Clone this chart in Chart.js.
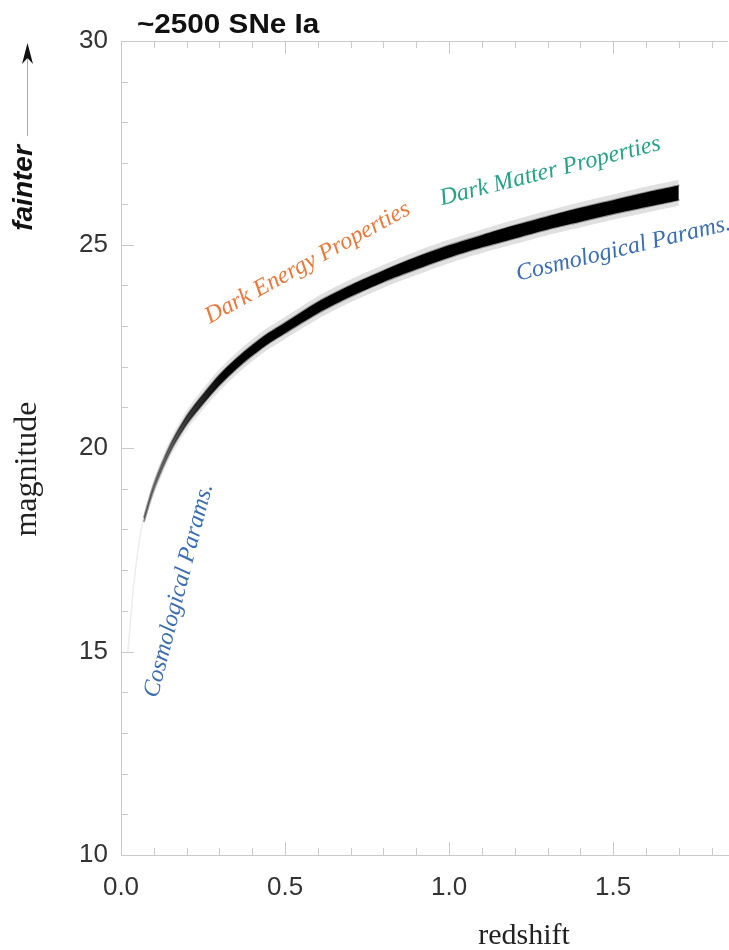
<!DOCTYPE html>
<html>
<head>
<meta charset="utf-8">
<script src="https://cdn.jsdelivr.net/npm/chart.js@4/dist/chart.umd.min.js"></script>
<style>
  html, body { margin: 0; padding: 0; background: #fff; }
  #wrap { position: relative; width: 729px; height: 950px; }
</style>
</head>
<body>
<div id="wrap"><canvas id="hubble" width="729" height="950"></canvas></div>
<script>
// Hubble diagram of the simulated SN Ia sample: redshift vs. apparent magnitude
const redshift   = [0.07, 0.10, 0.15, 0.20, 0.25, 0.30, 0.35, 0.40, 0.45, 0.50, 0.60,
                    0.70, 0.80, 0.90, 1.00, 1.10, 1.20, 1.30, 1.40, 1.50, 1.60, 1.70];
const magCenter  = [18.25, 19.04, 19.99, 20.68, 21.2, 21.67, 22.06, 22.4, 22.7, 22.95, 23.45,
                    23.86, 24.22, 24.54, 24.83, 25.08, 25.31, 25.53, 25.73, 25.92, 26.1, 26.27];
// spread of the points around the locus, and of their error bars (mag)
const scatterHalf = [0.05, 0.07, 0.09, 0.11, 0.12, 0.13, 0.13, 0.13, 0.13, 0.13, 0.14,
                     0.14, 0.14, 0.15, 0.15, 0.15, 0.16, 0.16, 0.17, 0.17, 0.18, 0.18];
const errorHalf   = [0.16, 0.20, 0.23, 0.25, 0.26, 0.27, 0.27, 0.27, 0.27, 0.27, 0.28,
                     0.28, 0.28, 0.29, 0.29, 0.29, 0.30, 0.30, 0.31, 0.31, 0.32, 0.32];
// faint trace of the nearby sample
const nearbyRedshift = [0.021, 0.037, 0.052, 0.067];
const nearbyMag      = [15.0, 16.5, 17.5, 18.25];

const xTickValues = [0.0, 0.5, 1.0, 1.5];
const yTickValues = [10, 15, 20, 25, 30];

// labelled regions of the diagram: [text, redshift, magnitude, angle (deg), colour]
const regionLabels = [
  ['Dark Energy Properties', 0.578, 24.41, -28.7, '#e8793d'],
  ['Dark Matter Properties', 1.313, 26.65, -14.2, '#27a189'],
  ['Cosmological Params.',   1.536, 24.74, -13.5, '#3b6db3'],
  ['Cosmological Params.',   0.195, 16.46, -75.5, '#3b6db3']
];

const pts = (xs, ys) => xs.map((x, i) => ({ x, y: ys[i] }));
const shifted = (arr, half, sign) => arr.map((v, i) => v + sign * half[i]);

// darker where the sample is dense, greyer at low redshift where it is sparse
function coreFill(context) {
  const chart = context.chart;
  if (!chart.chartArea) return '#000';
  const xs = chart.scales.x;
  const g = chart.ctx.createLinearGradient(xs.getPixelForValue(0.06), 0, xs.getPixelForValue(0.32), 0);
  g.addColorStop(0, 'rgba(90,90,90,0.45)');
  g.addColorStop(0.5, 'rgba(30,30,30,0.85)');
  g.addColorStop(1, 'rgba(0,0,0,1)');
  return g;
}
function haloFill(context) {
  const chart = context.chart;
  if (!chart.chartArea) return 'rgba(0,0,0,0.1)';
  const xs = chart.scales.x;
  const g = chart.ctx.createLinearGradient(xs.getPixelForValue(0.06), 0, xs.getPixelForValue(0.4), 0);
  g.addColorStop(0, 'rgba(0,0,0,0.06)');
  g.addColorStop(1, 'rgba(0,0,0,0.12)');
  return g;
}

const TICK_COLOR = '#c9c9c9';

const decorations = {
  id: 'decorations',
  afterDraw(chart) {
    const { ctx, chartArea: a, scales: { x, y } } = chart;
    ctx.save();

    // top frame line
    ctx.strokeStyle = TICK_COLOR;
    ctx.lineWidth = 1;
    ctx.beginPath();
    ctx.moveTo(a.left, a.top + 0.5);
    ctx.lineTo(a.right, a.top + 0.5);
    ctx.stroke();

    // inward tick marks
    ctx.beginPath();
    for (let i = 0; i <= 18; i++) {
      const px = Math.round(x.getPixelForValue(i / 10)) + 0.5;
      const len = i % 5 === 0 ? 13 : 7;
      ctx.moveTo(px, a.bottom); ctx.lineTo(px, a.bottom - len);
      ctx.moveTo(px, a.top);    ctx.lineTo(px, a.top + len);
    }
    for (let m = 10; m <= 30; m++) {
      const py = Math.round(y.getPixelForValue(m)) + 0.5;
      const len = m % 5 === 0 ? 13 : 7;
      ctx.moveTo(a.left, py); ctx.lineTo(a.left + len, py);
    }
    ctx.stroke();

    // title
    ctx.fillStyle = '#111';
    ctx.font = 'bold 28px "Liberation Sans", Arial, sans-serif';
    ctx.textAlign = 'left';
    ctx.textBaseline = 'alphabetic';
    ctx.save();
    ctx.translate(137, 33);
    ctx.scale(1.06, 1);
    ctx.fillText('~2500 SNe Ia', 0, 0);
    ctx.restore();

    // axis titles
    ctx.fillStyle = '#222';
    ctx.font = '30px "Liberation Serif", "Times New Roman", serif';
    ctx.textAlign = 'center';
    ctx.textBaseline = 'middle';
    ctx.fillText('redshift', 524, 936);
    ctx.save();
    ctx.translate(28, 469);
    ctx.rotate(-Math.PI / 2);
    ctx.font = '32px "Liberation Serif", "Times New Roman", serif';
    ctx.fillText('magnitude', 0, 0);
    ctx.restore();

    // "fainter" with its arrow
    ctx.save();
    ctx.translate(24, 188);
    ctx.rotate(-Math.PI / 2);
    ctx.fillStyle = '#111';
    ctx.font = 'italic bold 28px "Liberation Sans", Arial, sans-serif';
    ctx.fillText('fainter', 0, 0);
    ctx.restore();
    ctx.strokeStyle = '#aaa';
    ctx.lineWidth = 1;
    ctx.beginPath();
    ctx.moveTo(27.5, 136);
    ctx.lineTo(27.5, 58);
    ctx.stroke();
    ctx.fillStyle = '#111';
    ctx.beginPath();
    ctx.moveTo(27.5, 43);
    ctx.lineTo(33, 64);
    ctx.lineTo(27.5, 58);
    ctx.lineTo(22, 64);
    ctx.closePath();
    ctx.fill();

    // region labels placed in data coordinates
    ctx.font = 'italic 24px "Liberation Serif", "Times New Roman", serif';
    ctx.textAlign = 'center';
    ctx.textBaseline = 'alphabetic';
    for (const [text, z, m, ang, col] of regionLabels) {
      ctx.save();
      ctx.translate(x.getPixelForValue(z), y.getPixelForValue(m));
      ctx.rotate(ang * Math.PI / 180);
      ctx.fillStyle = col;
      ctx.fillText(text, 0, 0);
      ctx.restore();
    }
    ctx.restore();
  }
};

new Chart(document.getElementById('hubble'), {
  type: 'line',
  data: {
    datasets: [
      { // scatter core, upper edge
        data: pts(redshift, shifted(magCenter, scatterHalf, 1)),
        borderColor: 'rgba(0,0,0,0.35)', borderWidth: 2, pointRadius: 0, tension: 0.3,
        borderCapStyle: 'round', fill: false
      },
      { // scatter core, lower edge, filled to the upper edge
        data: pts(redshift, shifted(magCenter, scatterHalf, -1)),
        borderColor: 'rgba(0,0,0,0.35)', borderWidth: 2, pointRadius: 0, tension: 0.3,
        borderCapStyle: 'round', fill: '-1', backgroundColor: coreFill
      },
      { // error-bar halo, upper edge
        data: pts(redshift, shifted(magCenter, errorHalf, 1)),
        borderColor: 'rgba(0,0,0,0)', borderWidth: 0, pointRadius: 0, tension: 0.3, fill: false
      },
      { // error-bar halo, lower edge
        data: pts(redshift, shifted(magCenter, errorHalf, -1)),
        borderColor: 'rgba(0,0,0,0)', borderWidth: 0, pointRadius: 0, tension: 0.3,
        fill: '-1', backgroundColor: haloFill
      },
      { // nearby sample trace
        data: pts(nearbyRedshift, nearbyMag),
        borderColor: '#ececec', borderWidth: 1.5, pointRadius: 0, tension: 0.3, fill: false
      }
    ]
  },
  options: {
    responsive: false,
    animation: false,
    events: [],
    layout: { padding: { top: 41, left: 0, right: 1, bottom: 0 } },
    plugins: { legend: { display: false }, tooltip: { enabled: false }, title: { display: false } },
    scales: {
      x: {
        type: 'linear', min: 0, max: 1.85,
        grid: { display: false, drawTicks: false },
        border: { display: true, color: TICK_COLOR, width: 1 },
        afterFit: s => { s.height = 95; },
        afterBuildTicks: s => { s.ticks = xTickValues.map(v => ({ value: v })); },
        ticks: {
          padding: 17, color: '#333',
          font: { family: '"Liberation Sans", Arial, sans-serif', size: 26 },
          callback: v => Number(v).toFixed(1)
        }
      },
      y: {
        type: 'linear', min: 10, max: 30,
        grid: { display: false, drawTicks: false },
        border: { display: true, color: TICK_COLOR, width: 1 },
        afterFit: s => { s.width = 121; },
        afterBuildTicks: s => { s.ticks = yTickValues.map(v => ({ value: v })); },
        ticks: {
          padding: 13, color: '#333',
          font: { family: '"Liberation Sans", Arial, sans-serif', size: 26 },
          callback: v => String(v)
        }
      }
    }
  },
  plugins: [decorations]
});
</script>
</body>
</html>
